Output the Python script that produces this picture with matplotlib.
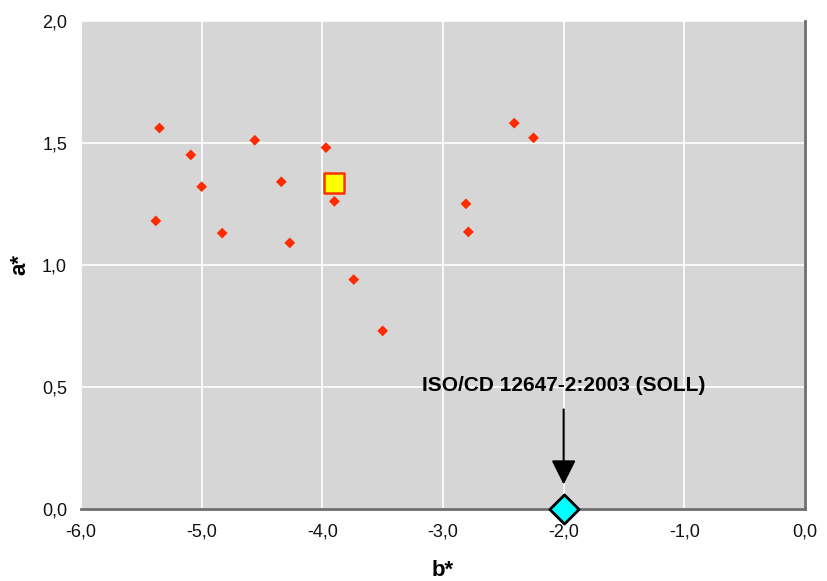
import matplotlib.pyplot as plt

# measured points (b*, a*)
b_vals = [-5.35, -5.09, -5.00, -5.38, -4.83, -4.56, -4.34, -4.27,
          -3.97, -3.90, -3.74, -3.50, -2.41, -2.25, -2.81, -2.79]
a_vals = [1.56, 1.45, 1.32, 1.18, 1.13, 1.51, 1.34, 1.09,
          1.48, 1.26, 0.94, 0.73, 1.58, 1.52, 1.25, 1.135]

# mean value
mean_b = [-3.90]
mean_a = [1.336]

# target (SOLL)
soll_b = [-2.0]
soll_a = [0.0]
soll_label = "ISO/CD 12647-2:2003 (SOLL)"

x_ticks = [-6, -5, -4, -3, -2, -1, 0]
y_ticks = [0.0, 0.5, 1.0, 1.5, 2.0]

plt.rcParams["font.family"] = ["Liberation Sans", "DejaVu Sans"]

fig = plt.figure(figsize=(8.28, 5.81), dpi=100)
ax = fig.add_axes([81 / 828, 1 - 509.3 / 581, 724 / 828, 488.8 / 581])
ax.set_facecolor("#d6d6d6")
ax.set_xlim(-6, 0)
ax.set_ylim(0, 2)
ax.set_xticks(x_ticks)
ax.set_yticks(y_ticks)
ax.set_xticklabels([f"{v:.1f}".replace(".", ",") for v in x_ticks])
ax.set_yticklabels([f"{v:.1f}".replace(".", ",") for v in y_ticks])
ax.tick_params(length=0, labelsize=13, pad=10, colors="#111111")
ax.grid(True, color="white", lw=1.2)
ax.set_axisbelow(True)
for s in ["left", "top"]:
    ax.spines[s].set_visible(False)
for s in ["bottom", "right"]:
    ax.spines[s].set_color("#6e6e6e")
    ax.spines[s].set_linewidth(2)

ax.scatter(b_vals, a_vals, marker="D", s=30, color="#ff2a00", edgecolors="none", zorder=3)
ax.scatter(mean_b, mean_a, marker="s", s=200, color="#ffff00", edgecolors="#ff3300",
           linewidths=1.8, zorder=4)
ax.scatter(soll_b, soll_a, marker="D", s=220, color="#00ffff", edgecolors="black",
           linewidths=2, zorder=5, clip_on=False)

ax.annotate("", xy=(soll_b[0], 0.09), xytext=(soll_b[0], 0.42),
            arrowprops=dict(arrowstyle="-|>,head_width=0.75,head_length=1.5",
                            color="black", lw=1.5), zorder=6)
ax.text(soll_b[0], 0.508, soll_label, ha="center", va="center", fontsize=15,
        fontweight="bold", zorder=6)

ax.set_xlabel("b*", fontsize=16, fontweight="bold", labelpad=14)
ax.set_ylabel("a*", fontsize=16, fontweight="bold", labelpad=8)

fig.savefig("out.png", dpi=100)
